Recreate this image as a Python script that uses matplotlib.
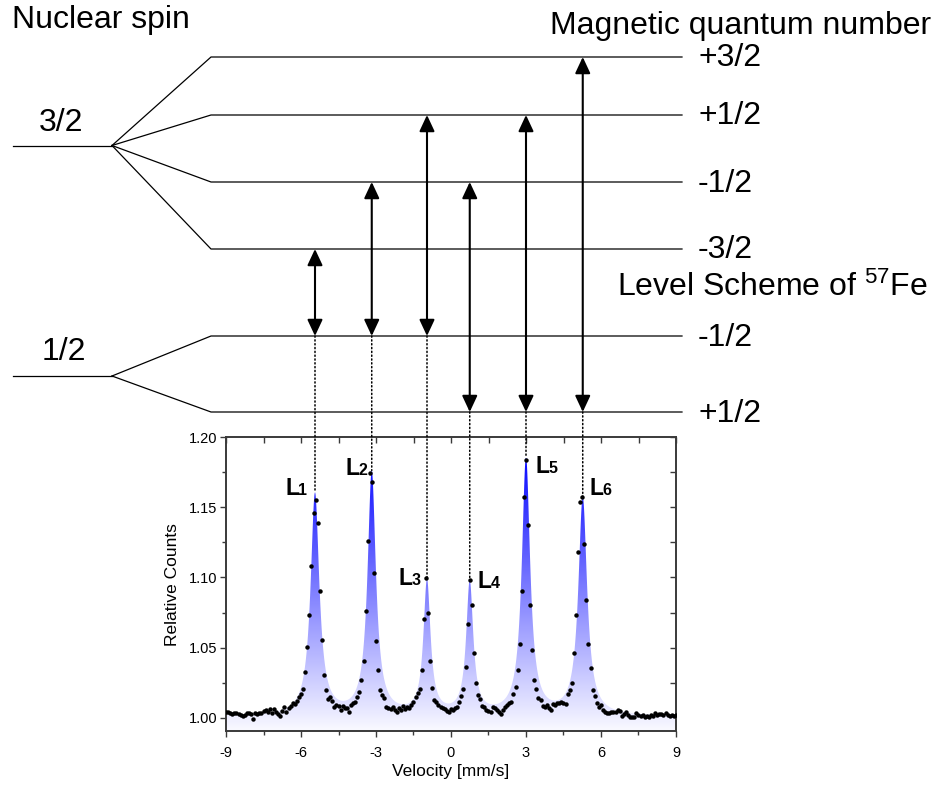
import numpy as np
import matplotlib
matplotlib.use("Agg")
import matplotlib.pyplot as plt
from matplotlib import transforms
from matplotlib.patches import Polygon, ConnectionPatch
from matplotlib.ticker import MultipleLocator

plt.rcParams['font.family'] = ['Liberation Sans', 'DejaVu Sans']
plt.rcParams['axes.unicode_minus'] = False
plt.rcParams['mathtext.fontset'] = 'custom'
plt.rcParams['mathtext.rm'] = 'Liberation Sans'
plt.rcParams['mathtext.it'] = 'Liberation Sans:italic'
plt.rcParams['mathtext.bf'] = 'Liberation Sans:bold'

# ---------------- data ----------------
velocity_limits = [-9, 9]
counts = [
    1.0043, 1.0040, 1.0036, 1.0026, 1.0030, 1.0036, 1.0026, 1.0018, 1.0012, 1.0019,
    1.0036, 1.0030, 1.0026, 0.9991, 1.0036, 1.0026, 1.0030, 1.0036, 1.0045, 1.0055,
    1.0043, 1.0060, 1.0036, 1.0060, 1.0040, 1.0026, 1.0012, 1.0050, 1.0078, 1.0043,
    1.0066, 1.0080, 1.0102, 1.0097, 1.0120, 1.0144, 1.0168, 1.0208, 1.0327, 1.0504,
    1.0736, 1.1080, 1.1460, 1.1555, 1.1390, 1.0907, 1.0556, 1.0308, 1.0197, 1.0130,
    1.0149, 1.0118, 1.0078, 1.0090, 1.0085, 1.0054, 1.0085, 1.0066, 1.0066, 1.0043,
    1.0090, 1.0107, 1.0114, 1.0149, 1.0185, 1.0268, 1.0405, 1.0758, 1.1260, 1.1747,
    1.1683, 1.1030, 1.0550, 1.0343, 1.0196, 1.0161, 1.0137, 1.0078, 1.0071, 1.0060,
    1.0078, 1.0054, 1.0043, 1.0066, 1.0054, 1.0083, 1.0060, 1.0078, 1.0066, 1.0090,
    1.0114, 1.0149, 1.0178, 1.0204, 1.0339, 1.0703, 1.0994, 1.0746, 1.0405, 1.0213,
    1.0125, 1.0109, 1.0090, 1.0078, 1.0071, 1.0060, 1.0050, 1.0043, 1.0060, 1.0055,
    1.0066, 1.0078, 1.0114, 1.0154, 1.0208, 1.0362, 1.0665, 1.0983, 1.0803, 1.0462,
    1.0249, 1.0160, 1.0130, 1.0085, 1.0078, 1.0054, 1.0050, 1.0043, 1.0078, 1.0066,
    1.0054, 1.0043, 1.0026, 1.0054, 1.0078, 1.0090, 1.0102, 1.0114, 1.0168, 1.0220,
    1.0343, 1.0528, 1.0907, 1.1577, 1.1837, 1.1373, 1.0807, 1.0485, 1.0268, 1.0208,
    1.0137, 1.0125, 1.0085, 1.0078, 1.0090, 1.0066, 1.0054, 1.0097, 1.0090, 1.0102,
    1.0107, 1.0114, 1.0102, 1.0097, 1.0168, 1.0201, 1.0249, 1.0462, 1.0729, 1.1184,
    1.1540, 1.1577, 1.1241, 1.0839, 1.0528, 1.0355, 1.0201, 1.0154, 1.0102, 1.0078,
    1.0090, 1.0054, 1.0043, 1.0036, 1.0036, 1.0043, 1.0043, 1.0043, 1.0054, 1.0050,
    1.0012, 1.0026, 1.0043, 1.0019, 1.0007, 1.0007, 1.0002, 1.0030, 1.0019, 1.0012,
    1.0019, 1.0002, 1.0012, 1.0002, 1.0019, 1.0012, 1.0030, 1.0019, 1.0026, 1.0026,
    1.0019, 1.0030, 1.0019, 1.0012, 1.0019, 1.0012, 1.0019,
]
velocity = np.linspace(velocity_limits[0], velocity_limits[1], len(counts))

# fitted sextet (Lorentzian lines)
peak_names = ['1', '2', '3', '4', '5', '6']
peak_pos = [-5.44, -3.17, -0.96, 0.75, 3.00, 5.27]
peak_amp = [0.158, 0.173, 0.095, 0.094, 0.183, 0.155]
peak_hwhm = [0.21, 0.20, 0.17, 0.17, 0.20, 0.21]
fit_base = 1.001

# level scheme
upper_levels = ['+3/2', '+1/2', '-1/2', '-3/2']
lower_levels = ['-1/2', '+1/2']
transitions = [('-3/2', '-1/2'), ('-1/2', '-1/2'), ('+1/2', '-1/2'),
               ('-1/2', '+1/2'), ('+1/2', '+1/2'), ('+3/2', '+1/2')]

x_ticks = [-9, -6, -3, 0, 3, 6, 9]
y_ticks = [1.00, 1.05, 1.10, 1.15, 1.20]

# ---------------- figure ----------------
W, H = 934, 792
fig = plt.figure(figsize=(W / 100, H / 100), dpi=100)
fig.patch.set_facecolor('white')

ax_l, ax_r, ax_t, ax_b = 226, 676, 437.3, 731
ax = fig.add_axes([ax_l / W, 1 - ax_b / H, (ax_r - ax_l) / W, (ax_b - ax_t) / H])
ymin, ymax = 0.9905, 1.20

def fit_curve(v):
    v = np.asarray(v, dtype=float)
    y = np.full_like(v, fit_base)
    for x0, a, g in zip(peak_pos, peak_amp, peak_hwhm):
        y = y + a / (1 + ((v - x0) / g) ** 2)
    return y

vf = np.linspace(velocity_limits[0], velocity_limits[1], 4000)
yf = fit_curve(vf)

# gradient fill under the fit
top_col = np.array([10, 10, 255]) / 255
bot_col = np.array([250, 250, 255]) / 255
g = np.linspace(0, 1, 512)[:, None, None]
grad_img = bot_col[None, None, :] * (1 - g) + top_col[None, None, :] * g
grad_top = 1.185
im = ax.imshow(grad_img, extent=[velocity_limits[0], velocity_limits[1], ymin, grad_top],
               origin='lower', aspect='auto', interpolation='bilinear', zorder=1)
verts = np.column_stack([np.r_[vf, vf[::-1]], np.r_[yf, np.full_like(yf, ymin)]])
clip = Polygon(verts, closed=True, facecolor='none', edgecolor='none', transform=ax.transData)
ax.add_patch(clip)
im.set_clip_path(clip)

ax.plot(velocity, counts, 'o', ms=3.2, color='black', mec='none', zorder=3)

ax.set_xlim(velocity_limits)
ax.set_ylim(ymin, ymax)

spine_col = '#3a3a3a'
for s in ax.spines.values():
    s.set_color(spine_col)
    s.set_linewidth(1.4)

ax.set_xticks(x_ticks)
ax.set_xticklabels([str(t) for t in x_ticks])
ax.xaxis.set_minor_locator(MultipleLocator(1.5))
ax.set_yticks(y_ticks)
ax.set_yticklabels([f'{t:.2f}' for t in y_ticks])
ax.yaxis.set_minor_locator(MultipleLocator(0.025))
ax.tick_params(axis='x', which='major', direction='out', length=4.5, width=1.0,
               color=spine_col, labelsize=10.5, pad=6)
ax.tick_params(axis='x', which='minor', direction='out', length=3, width=1.0, color=spine_col)
ax.tick_params(axis='y', which='major', direction='out', length=4.5, width=1.0,
               color=spine_col, labelsize=10.5, pad=1.5)
ax.tick_params(axis='y', which='minor', direction='out', length=3, width=1.0, color=spine_col)

secx = ax.secondary_xaxis('top')
secx.set_xticks(x_ticks)
secx.xaxis.set_minor_locator(MultipleLocator(1.5))
secx.tick_params(which='both', direction='in', length=4, width=1.0, color=spine_col, labeltop=False)
secx.spines['top'].set_visible(False)
secy = ax.secondary_yaxis('right')
secy.set_yticks(y_ticks)
secy.yaxis.set_minor_locator(MultipleLocator(0.025))
secy.tick_params(which='both', direction='in', length=4, width=1.0, color=spine_col, labelright=False)
secy.spines['right'].set_visible(False)

ax.set_xlabel('Velocity [mm/s]', fontsize=12.5)
ax.xaxis.set_label_coords(0.5, -0.112)
ax.xaxis.label.set_va('top')
ax.set_ylabel('Relative Counts', fontsize=12.5)
ax.yaxis.set_label_coords(-0.103, 0.5)

# peak labels L1..L6
label_xy = [(-6.62, 1.1588), (-4.23, 1.1731), (-2.09, 1.0946),
            (1.07, 1.0923), (3.38, 1.1743), (5.54, 1.1588)]
digit_tr = transforms.offset_copy(ax.transData, fig=fig, x=9.3, y=0, units='points')
for (lx, ly), name in zip(label_xy, peak_names):
    ax.text(lx, ly, 'L', fontsize=16.5, fontweight='bold', ha='left', va='baseline', zorder=4)
    ax.text(lx, ly, name, fontsize=11.5, fontweight='bold', ha='left', va='baseline',
            transform=digit_tr, zorder=4)

# ---------------- level scheme overlay ----------------
dax = fig.add_axes([0, 0, 1, 1], zorder=5)
dax.set_xlim(0, W)
dax.set_ylim(H, 0)
dax.axis('off')

upper_y = {'+3/2': 57, '+1/2': 115, '-1/2': 182, '-3/2': 249}
lower_y = {'-1/2': 336, '+1/2': 412}
x_start, x_split, x_level, x_end = 13, 112, 211, 682
y_spin32, y_spin12 = 145.5, 376

big = 23
lw_level = 0.9
dax.plot([x_start, x_split], [y_spin32, y_spin32], color='black', lw=lw_level)
for name in upper_levels:
    yl = upper_y[name]
    dax.plot([x_split, x_level, x_end], [y_spin32, yl, yl], color='black', lw=lw_level)
    dax.text(698, yl + 1.5, name, fontsize=big, ha='left', va='center')
dax.plot([x_start, x_split], [y_spin12, y_spin12], color='black', lw=lw_level)
for name in lower_levels:
    yl = lower_y[name]
    dax.plot([x_split, x_level, x_end], [y_spin12, yl, yl], color='black', lw=lw_level)
    dax.text(698, yl + 1.5, name, fontsize=big, ha='left', va='center')

dax.text(61, 123, '3/2', fontsize=big, ha='center', va='center')
dax.text(64, 352, '1/2', fontsize=big, ha='center', va='center')
dax.text(12, 28, 'Nuclear spin', fontsize=big, ha='left', va='baseline')
dax.text(931, 34, 'Magnetic quantum number', fontsize=big, ha='right', va='baseline')
dax.text(617, 296, 'Level Scheme of $^{57}$Fe', fontsize=big, ha='left', va='baseline')

blend = transforms.blended_transform_factory(ax.transData, dax.transData)
apex = fit_curve(peak_pos)
for (up, lo), xp, ya in zip(transitions, peak_pos, apex):
    y_up = upper_y[up]
    y_lo = lower_y[lo]
    dax.annotate('', xy=(xp, y_up), xytext=(xp, y_lo), xycoords=blend, textcoords=blend,
                 arrowprops=dict(arrowstyle='<|-|>,head_length=0.9,head_width=0.42',
                                 mutation_scale=11, lw=1.5, color='black',
                                 shrinkA=0, shrinkB=0))
    con = ConnectionPatch(xyA=(xp, y_lo), coordsA=blend, xyB=(xp, ya), coordsB=ax.transData,
                          color='black', lw=1.1, linestyle=(0, (0.8, 1.7)), zorder=6)
    fig.add_artist(con)

fig.savefig('out.png', dpi=100)
